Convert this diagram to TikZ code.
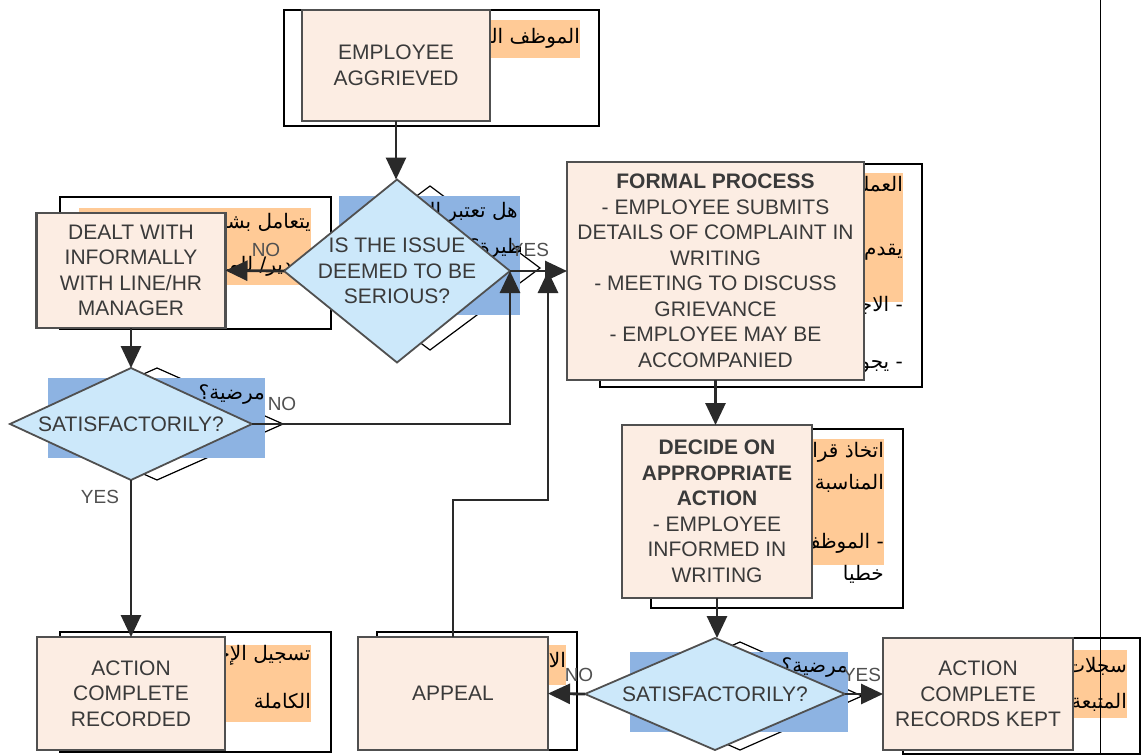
\documentclass[tikz,border=0pt]{standalone}
\usepackage{fontspec}
\setmainfont{Liberation Sans}
\newfontfamily\arabicfont[Script=Arabic]{DejaVu Sans}
\TeXXeTstate=1
\usetikzlibrary{arrows.meta,shapes.geometric}
\definecolor{boxfill}{HTML}{FCEDE3}
\definecolor{boxline}{HTML}{505050}
\definecolor{boxtext}{HTML}{3A3A3A}
\definecolor{diafill}{HTML}{CCE8FA}
\definecolor{bluehl}{HTML}{8DB3E2}
\definecolor{orangehl}{HTML}{FFCA96}
\definecolor{connc}{HTML}{2A2A2A}
\definecolor{lblc}{HTML}{505050}
\newcommand{\artxt}[1]{{\arabicfont\beginR #1\endR}}
\tikzset{
  frame/.style={draw=black, fill=white, line width=1.2pt},
  orangebox/.style={fill=orangehl},
  bluebox/.style={fill=bluehl},
  ar/.style={font=\fontsize{20}{24}\selectfont, text=black, inner sep=0, anchor=east},
  box/.style={draw=boxline, fill=boxfill, line width=2.4pt, inner sep=0, outer sep=0,
    align=center, text=boxtext, font=\fontsize{21}{25.5}\selectfont},
  dia/.style={diamond, draw=boxline, fill=diafill, line width=1.8pt, inner sep=0, outer sep=0},
  diatext/.style={align=center, text=boxtext, font=\fontsize{21}{25.5}\selectfont, inner sep=0},
  conn/.style={draw=connc, line width=2.8pt, -{Triangle[width=20pt,length=22pt]}},
  lbl/.style={text=lblc, font=\fontsize{19}{22}\selectfont, inner sep=0},
}
\begin{document}
\begin{tikzpicture}[x=1pt,y=-1pt]
\useasboundingbox[fill=white] (0,0) rectangle (1147,755);

% ---- background frames ----
\draw[frame] (284,10) rectangle (599,126);
\draw[frame] (60,197) rectangle (331,329);
\draw[frame] (600,164) rectangle (922,387);
\draw[frame] (651,429) rectangle (903,608);
\draw[frame] (60,632) rectangle (331,752);
\draw[frame] (377,632) rectangle (577,750);
\draw[frame] (903,638) rectangle (1140,754);
\draw[frame] (320,268) -- (430,186) -- (540,268) -- (430,350) -- cycle;
\draw[frame] (31,424) -- (157,368) -- (283,424) -- (157,480) -- cycle;
\draw[frame] (618,696) -- (740,642) -- (862,696) -- (740,750) -- cycle;

% ---- highlights ----
\fill[orangebox] (400,20) rectangle (580,58);
\fill[orangebox] (79,208) rectangle (311,285);
\fill[orangebox] (800,173) rectangle (903,302);
\fill[orangebox] (760,439) rectangle (884,565);
\fill[orangebox] (180,645) rectangle (311,722);
\fill[orangebox] (500,645) rectangle (566,685);
\fill[orangebox] (1000,650) rectangle (1127,718);
\fill[bluebox] (339,196) rectangle (520,315);
\fill[bluebox] (48,378) rectangle (265,458);
\fill[bluebox] (630,652) rectangle (848,732);

% ---- arabic texts ----
\node[ar] (a1) at (580,38) {\artxt{الموظف المتظلم}};
\node[ar] (a2) at (311,223) {\artxt{يتعامل بشكل غير رسمي}};
\node[ar] (a3) at (292,266) {\artxt{دير/ للموارد}};
\node[ar] (a4) at (518,212) {\artxt{هل تعتبر المشكلة}};
\begin{scope}
  \clip (339,196) rectangle (520,315);
  \node[ar] (a5) at (536,248) {\artxt{خطيرة؟}};
\end{scope}
\node[ar] (a6) at (265,395) {\artxt{مرضية؟}};
\node[ar] (a7) at (848,668) {\artxt{مرضية؟}};
\node[ar] (a8) at (903,186) {\artxt{العملية الرسمية}};
\node[ar] (a9) at (903,250) {\artxt{يقدم الموظف}};
\node[ar] (a10) at (903,306) {\artxt{- الاجتماع}};
\node[ar] (a11) at (903,366) {\artxt{- يجوز}};
\node[ar] (a12) at (884,452) {\artxt{اتخاذ قرار}};
\node[ar] (a13) at (884,483) {\artxt{المناسبة}};
\node[ar] (a14) at (884,543) {\artxt{- الموظف}};
\node[ar] (a15) at (884,574) {\artxt{خطيا}};
\node[ar] (a16) at (311,655) {\artxt{تسجيل الإجراءات}};
\node[ar] (a17) at (311,701) {\artxt{الكاملة}};
\node[ar] (a18) at (566,660) {\artxt{الاستئناف}};
\node[ar] (a19) at (1127,666) {\artxt{سجلات المتابعة}};
\node[ar] (a20) at (1127,702) {\artxt{المتبعة}};

% ---- main boxes ----
\node[box, minimum width=188, minimum height=111] (emp) at (396,65.5) {EMPLOYEE\\AGGRIEVED};
\node[box, minimum width=189, minimum height=115] (dealt) at (131,270.5) {DEALT WITH\\INFORMALLY\\WITH LINE/HR\\MANAGER};
\node[box, minimum width=297, minimum height=218] (formal) at (715.5,271) {\textbf{FORMAL PROCESS}\\- EMPLOYEE SUBMITS\\DETAILS OF COMPLAINT IN\\WRITING\\- MEETING TO DISCUSS\\GRIEVANCE\\- EMPLOYEE MAY BE\\ACCOMPANIED};
\node[box, minimum width=190, minimum height=173] (decide) at (717,511.5) {\textbf{DECIDE ON}\\\textbf{APPROPRIATE}\\\textbf{ACTION}\\- EMPLOYEE\\INFORMED IN\\WRITING};
\node[box, minimum width=188, minimum height=113] (rec) at (131,693.5) {ACTION\\COMPLETE\\RECORDED};
\node[box, minimum width=190, minimum height=113] (appeal) at (453,693.5) {APPEAL};
\node[box, minimum width=190, minimum height=112] (kept) at (978,694) {ACTION\\COMPLETE\\RECORDS KEPT};

% ---- diamonds ----
\node[dia, minimum width=226, minimum height=183] (d1) at (397,271) {};
\node[diatext] at (d1.center) {IS THE ISSUE\\DEEMED TO BE\\SERIOUS?};
\node[dia, minimum width=242, minimum height=112] (d2) at (131,424) {};
\node[diatext] at (d2.center) {SATISFACTORILY?};
\node[dia, minimum width=260, minimum height=112] (d3) at (715,694) {};
\node[diatext] at (d3.center) {SATISFACTORILY?};

% ---- connectors ----
\coordinate (apup) at (548,500);
\coordinate (aptip) at (548,271);
\draw[conn] (emp.south) -- (emp.south |- d1.north);
\draw[conn] (d1.west) -- (dealt.east);
\draw[conn] (d1.east) -- (d1.east -| formal.west);
\draw[conn] (dealt.south) -- (d2.north);
\draw[conn] (d2.east) -| (d1.east);
\draw[conn] (d2.south) -- (rec.north);
\draw[conn] (formal.south) -- (formal.south |- decide.north);
\draw[conn] (decide.south) -- (decide.south |- d3.north);
\draw[conn] (d3.west) -- (appeal.east);
\draw[conn] (d3.east) -- (kept.west);
\draw[conn] (appeal.north) -- (appeal.north |- apup) -- (apup) -- (aptip);

% ---- labels ----
\node[lbl] (l1) at (266,250) {NO};
\node[lbl] (l2) at (530,250) {YES};
\node[lbl] (l3) at (282,404) {NO};
\node[lbl] (l4) at (100,497) {YES};
\node[lbl] (l5) at (579,675) {NO};
\node[lbl] (l6) at (862,675) {YES};

\draw[black, line width=1pt] (1100,0) -- (1100,755);
\end{tikzpicture}
\end{document}
